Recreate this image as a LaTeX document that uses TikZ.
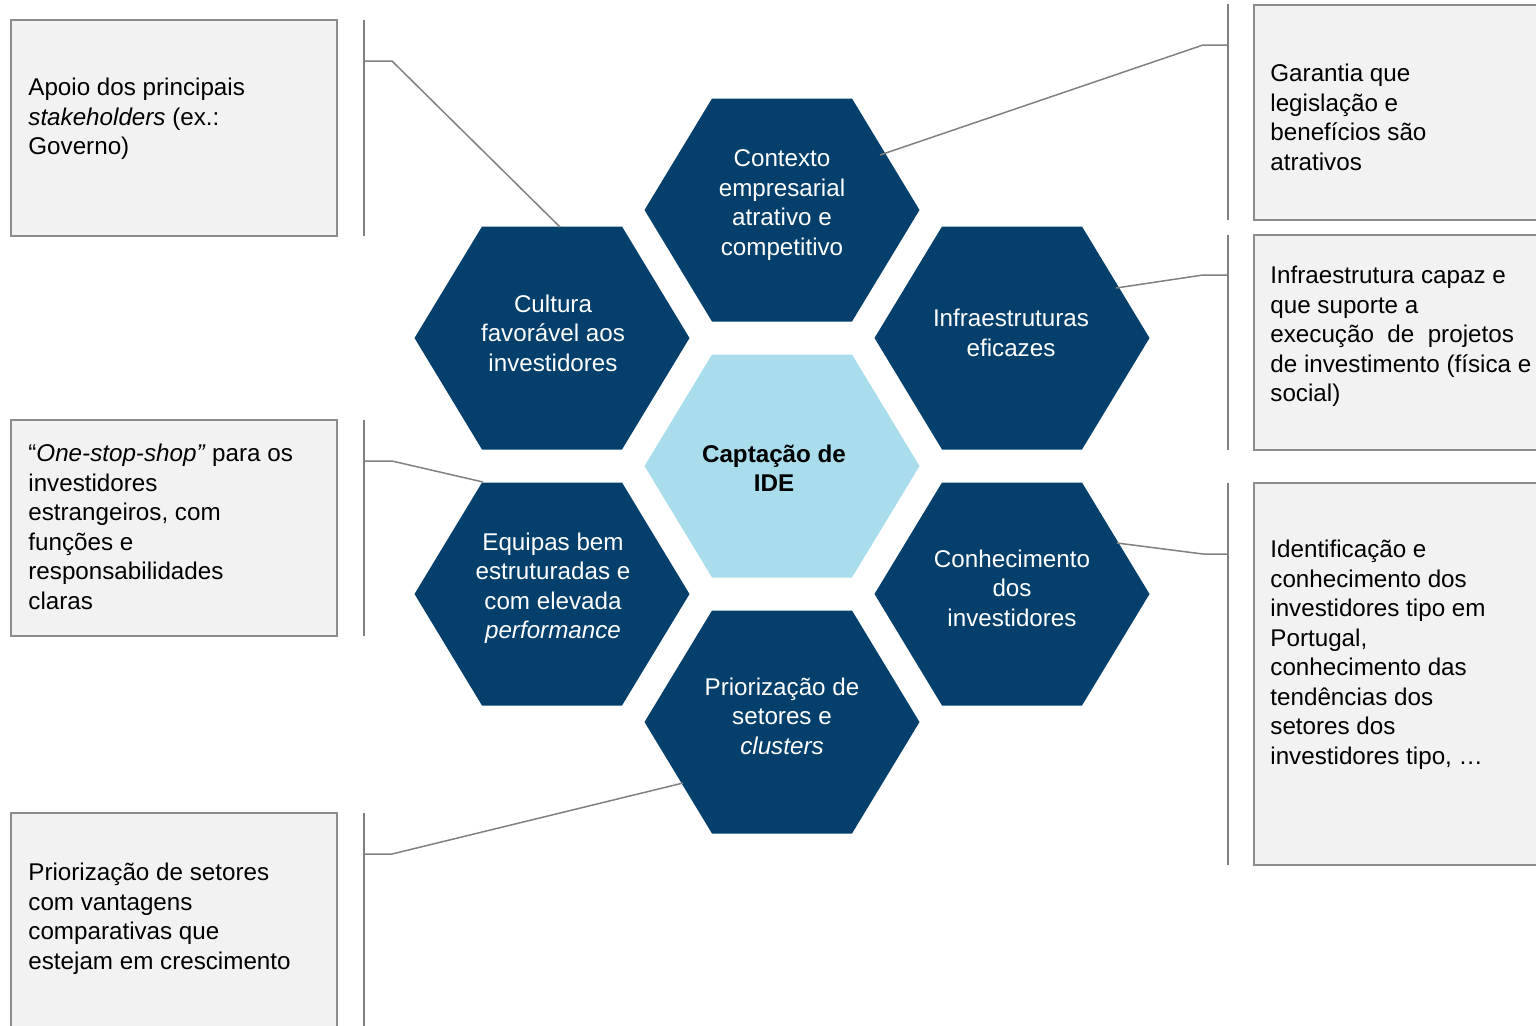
\documentclass[tikz,border=0pt]{standalone}
\usepackage{fontspec}
\setmainfont{Liberation Sans}
\usetikzlibrary{calc}

\definecolor{hexdark}{RGB}{4,64,107}
\definecolor{hexlight}{RGB}{169,221,236}
\definecolor{boxfill}{RGB}{242,242,242}
\definecolor{boxline}{RGB}{140,140,140}
\definecolor{linkgray}{RGB}{128,128,128}
\newcommand\bodyfont{\fontsize{12.1}{14.75}\selectfont}

\begin{document}
\begin{tikzpicture}[x=0.5pt, y=-0.5pt,
    hexshape/.style ={fill=#1, draw=none},
    hexlabel/.style ={text=white, font=\bodyfont, align=center, inner sep=0pt},
    notebox/.style  ={fill=boxfill, draw=boxline, line width=1pt},
    notetext/.style ={anchor=north west, font=\bodyfont, align=left, inner sep=0pt,
                      execute at begin node=\strut},
    barline/.style  ={draw=linkgray, line width=1pt},
    leader/.style   ={draw=linkgray, line width=0.75pt}
]
\clip (0,0) rectangle (1536,1025);
\useasboundingbox (0,0) rectangle (1536,1025);

% ---------- hexagon geometry ----------
\def\hexHalfW{137.5}  % centre to left/right point
\def\hexTopW{70}      % half of the flat top edge
\def\hexHalfH{111.5}  % centre to top edge

% ---------- note boxes ----------
\draw[notebox] (11,20) rectangle (337,236);
\draw[notebox] (11,420) rectangle (337,636);
\draw[notebox] (11,813) rectangle (337,1040);
\draw[notebox] (1254,5) rectangle (1550,220);
\draw[notebox] (1254,235) rectangle (1550,450);
\draw[notebox] (1254,483) rectangle (1550,865);

% ---------- brackets beside the boxes ----------
\draw[barline] (364,20) -- (364,236);
\draw[barline] (364,420) -- (364,636);
\draw[barline] (364,813) -- (364,1040);
\draw[barline] (1228,4) -- (1228,220);
\draw[barline] (1228,235) -- (1228,450);
\draw[barline] (1228,483) -- (1228,865);

% ---------- honeycomb ----------
\foreach \cx/\cy/\col in {782/210/hexdark, 552/338/hexdark, 1012/338/hexdark,
    782/466/hexlight, 552/594/hexdark, 1012/594/hexdark, 782/722/hexdark}
  \fill[hexshape=\col] ({\cx-\hexHalfW},\cy) -- ({\cx-\hexTopW},{\cy-\hexHalfH})
    -- ({\cx+\hexTopW},{\cy-\hexHalfH}) -- ({\cx+\hexHalfW},\cy)
    -- ({\cx+\hexTopW},{\cy+\hexHalfH}) -- ({\cx-\hexTopW},{\cy+\hexHalfH}) -- cycle;

% ---------- hexagon labels ----------
\node[hexlabel] (ctx)   at (782,205)  {Contexto\\empresarial\\atrativo e\\competitivo};
\node[hexlabel] (cult)  at (553,333)  {Cultura\\favorável aos\\investidores};
\node[hexlabel] (infra) at (1011,333) {Infraestruturas\\eficazes};
\node[hexlabel, text=black, font=\bodyfont\bfseries] (ide) at (774,468) {Captação de\\IDE};
\node[hexlabel] (equip) at (553,588)  {Equipas bem\\estruturadas e\\com elevada\\\textit{performance}};
\node[hexlabel] (conh)  at (1012,588) {Conhecimento\\dos\\investidores};
\node[hexlabel] (prior) at (782,716)  {Priorização de\\setores e\\\textit{clusters}};

% ---------- note texts ----------
\node[notetext] (noteApoio) at (28,78)  {Apoio dos principais\\\textit{stakeholders} (ex.:\\Governo)};
\node[notetext] (noteShop)  at (28,444) {“\textit{One-stop-shop”} para os\\investidores\\estrangeiros, com\\funções e\\responsabilidades\\claras};
\node[notetext] (notePrior) at (28,863) {Priorização de setores\\com vantagens\\comparativas que\\estejam em crescimento};
\node[notetext] (noteLeg)   at (1270,64)  {Garantia que\\legislação e\\benefícios são\\atrativos};
\node[notetext] (noteInfra) at (1270,266) {Infraestrutura capaz e\\que suporte a\\execução\ \ de\ \ projetos\\de investimento (física e\\social)};
\node[notetext] (noteConh)  at (1270,540) {Identificação e\\conhecimento dos\\investidores tipo em\\Portugal,\\conhecimento das\\tendências dos\\setores dos\\investidores tipo, …};

% ---------- leader points ----------
\coordinate (cultEnd)   at (560,227);
\coordinate (cultKnee)  at (392,61);
\coordinate (cultBar)   at (364,61);
\coordinate (equipEnd)  at (483,482);
\coordinate (equipKnee) at (392,461);
\coordinate (equipBar)  at (364,461);
\coordinate (priorEnd)  at (683,783);
\coordinate (priorKnee) at (392,854);
\coordinate (priorBar)  at (364,854);
\coordinate (ctxEnd)    at (880,155);
\coordinate (ctxKnee)   at (1203,45);
\coordinate (ctxBar)    at (1228,45);
\coordinate (infraEnd)  at (1116,288);
\coordinate (infraKnee) at (1203,275);
\coordinate (infraBar)  at (1228,275);
\coordinate (conhEnd)   at (1117,543);
\coordinate (conhKnee)  at (1203,554);
\coordinate (conhBar)   at (1228,554);

% ---------- leaders ----------
\draw[leader] (cultEnd) -- (cultKnee) -- (cultBar);
\draw[leader] (equipEnd) -- (equipKnee) -- (equipBar);
\draw[leader] (priorEnd) -- (priorKnee) -- (priorBar);
\draw[leader] (ctxEnd) -- (ctxKnee) -- (ctxBar);
\draw[leader] (infraEnd) -- (infraKnee) -- (infraBar);
\draw[leader] (conhEnd) -- (conhKnee) -- (conhBar);

\end{tikzpicture}
\end{document}
